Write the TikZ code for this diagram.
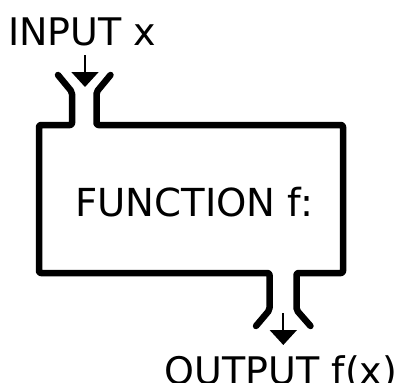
\documentclass[tikz,border=0pt]{standalone}
\usepackage{fontspec}
\setmainfont{DejaVu Sans}
\usetikzlibrary{arrows.meta}
\begin{document}
\begin{tikzpicture}[x=1pt,y=-1pt,
  wall/.style={line width=6.5pt,line cap=round,line join=round,rounded corners=2pt},
  flow/.style={line width=2pt,-{Triangle[width=27pt,length=15pt]}},
  lbl/.style={font=\fontsize{38}{40}\selectfont,inner sep=0pt,anchor=base west}]
\useasboundingbox (0,0) rectangle (402,383);
% coordinates
\coordinate (tl) at (58,75);
\coordinate (tlk) at (72,92);
\coordinate (tlb) at (72,125);
\coordinate (tr) at (110.5,75);
\coordinate (trk) at (96.5,92);
\coordinate (trb) at (96.5,125);
\coordinate (boxtl) at (39,125);
\coordinate (boxbl) at (39,273);
\coordinate (boxtr) at (343,125);
\coordinate (boxbr) at (343,273);
\coordinate (blt) at (269.5,273);
\coordinate (blk) at (269.5,310);
\coordinate (bl) at (256,326);
\coordinate (brt) at (296.5,273);
\coordinate (brk) at (296.5,310);
\coordinate (br) at (310.5,326);
% outline
\draw[wall] (tl) -- (tlk) -- (tlb) -- (boxtl) -- (boxbl) -- (blt) -- (blk) -- (bl);
\draw[wall] (tr) -- (trk) -- (trb) -- (boxtr) -- (boxbr) -- (brt) -- (brk) -- (br);
% labels
\node[lbl] (in) at (8,45) {INPUT x};
\node[lbl,font=\fontsize{38.6}{40}\selectfont] (fn) at (75,216) {FUNCTION f:};
\node[lbl] (out) at (164.5,384) {OUTPUT f(x)};
% arrows
\coordinate (ia) at (85,55);
\coordinate (ib) at (85,87);
\coordinate (oa) at (283.3,313);
\coordinate (ob) at (283.3,345);
\draw[flow] (ia) -- (ib);
\draw[flow] (oa) -- (ob);
\end{tikzpicture}
\end{document}
